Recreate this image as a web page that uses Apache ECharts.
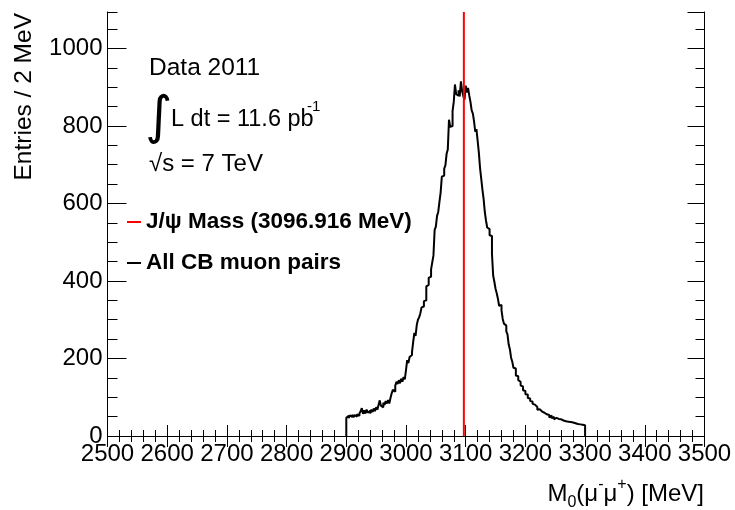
<!DOCTYPE html>
<html><head><meta charset="utf-8">
<script src="https://cdn.jsdelivr.net/npm/echarts@6/dist/echarts.min.js"></script>
<style>html,body{margin:0;padding:0;background:#fff}#c{width:735px;height:510px}</style>
</head><body><div id="c"></div>
<script>
// ---- data ----
const binLow = 2900;      // MeV, lower edge of first bin
const binWidth = 2;       // MeV per bin
const entries = [
  47,52,46,53,49,55,48,54,50,56,
  52,58,64,72,57,66,58,68,60,65,
  58,68,62,71,64,74,68,80,92,78,
  74,86,80,90,84,93,84,98,110,119,
  114,130,140,134,144,136,148,140,152,146,
  170,196,188,204,209,216,242,266,258,286,
  300,306,316,332,334,348,350,386,390,408,
  411,430,448,466,532,540,568,578,604,628,
  669,672,690,698,728,739,816,798,800,838,
  862,907,882,878,892,876,915,890,877,868,
  904,886,898,878,862,840,832,812,785,792,
  762,732,692,664,636,612,578,556,538,534,
  518,516,470,414,398,380,368,354,336,338,
  324,302,290,285,270,262,236,224,202,192,
  176,174,156,154,144,140,130,128,118,116,
  108,107,98,97,90,89,83,81,76,75,
  68,69,64,63,58,60,57,56,52,54,
  48,53,46,49,43,47,42,44,40,43,
  38,40,36,38,34,37,33,36,32,35,
  31,33,29,31,28,30,27,29,25,28
];
const jpsiMass = 3096.916;
const xRange = [2500, 3500];
const xTickStep = 100;
const yRange = [0, 1094];
const yTickStep = 200;
const yMinorStep = 50;
const seriesNames = ['J/\u03c8 Mass (3096.916 MeV)', 'All CB muon pairs'];

// ---- build histogram outline points from bins ----
const histPoints = [[binLow, 0]];
entries.forEach((v, i) => histPoints.push([binLow + i * binWidth, v]));
histPoints.push([binLow + entries.length * binWidth, 0]);

const FONT = 'Liberation Sans, Arial, Helvetica, sans-serif';
const chart = echarts.init(document.getElementById('c'));
const plain = v => String(v);

function xAx(pos, showLabel) {
  return {
    type: 'value', position: pos, min: xRange[0], max: xRange[1], interval: xTickStep,
    axisLine: { show: true, lineStyle: { color: '#000', width: 1 } },
    axisTick: { show: true, inside: true, length: 11, lineStyle: { color: '#000', width: 1 } },
    minorTick: { show: true, splitNumber: 5, length: 6, lineStyle: { color: '#000', width: 1 } },
    axisLabel: { show: showLabel, color: '#000', fontSize: 24, fontFamily: FONT, margin: 6, formatter: plain },
    splitLine: { show: false }
  };
}
function yAx(pos, step, tickLen, showLine, showLabel) {
  return {
    type: 'value', position: pos, min: yRange[0], max: yRange[1], interval: step,
    axisLine: { show: showLine, lineStyle: { color: '#000', width: 1 } },
    axisTick: { show: true, inside: true, length: tickLen, lineStyle: { color: '#000', width: 1 } },
    axisLabel: { show: showLabel, color: '#000', fontSize: 24, fontFamily: FONT, margin: 5, showMaxLabel: false, formatter: plain },
    splitLine: { show: false }
  };
}

chart.setOption({
  animation: false,
  backgroundColor: '#fff',
  grid: { left: 107.5, right: 30.5, top: 12, bottom: 74 },
  xAxis: [ xAx('bottom', true), xAx('top', false) ],
  yAxis: [
    yAx('left', yTickStep, 19, true, true),
    yAx('left', yMinorStep, 10, false, false),
    yAx('right', yTickStep, 17, true, false),
    yAx('right', yMinorStep, 9, false, false)
  ],
  legend: {
    data: seriesNames,
    orient: 'vertical', left: 127, top: 210, padding: 0,
    itemWidth: 14, itemHeight: 2, itemGap: 17, icon: 'rect',
    textStyle: { color: '#000', fontSize: 22.5, fontWeight: 'bold', fontFamily: FONT, lineHeight: 24 }
  },
  series: [
    {
      name: seriesNames[1], type: 'line', step: 'end', data: histPoints,
      showSymbol: false, symbol: 'none', color: '#000',
      lineStyle: { color: '#000', width: 2 }, z: 3
    },
    {
      name: seriesNames[0], type: 'line', data: [[jpsiMass, yRange[0]], [jpsiMass, yRange[1]]],
      showSymbol: false, symbol: 'none', color: '#ff0000',
      lineStyle: { color: '#ff0000', width: 2 }, z: 4
    }
  ],
  graphic: [
    { type: 'text', x: 24, y: 13, rotation: Math.PI / 2,
      style: { text: 'Entries / 2 MeV', fill: '#000', font: '24.5px ' + FONT, align: 'right', verticalAlign: 'middle' } },
    { type: 'text', x: 704, y: 494,
      style: {
        text: '{n|M}{sub|0}{n|(\u03bc}{sup|-}{n|\u03bc}{sup|+}{n|) [MeV]}',
        align: 'right', verticalAlign: 'middle', fill: '#000',
        rich: {
          n: { fontSize: 24, fontFamily: FONT, lineHeight: 34, fill: '#000' },
          sub: { fontSize: 16, fontFamily: FONT, lineHeight: 15, verticalAlign: 'bottom', fill: '#000' },
          sup: { fontSize: 16, fontFamily: FONT, lineHeight: 15, verticalAlign: 'top', fill: '#000' }
        }
      } },
    { type: 'text', x: 149, y: 68,
      style: { text: 'Data 2011', fill: '#000', font: '24.5px ' + FONT, align: 'left', verticalAlign: 'middle' } },
    { type: 'text', x: 145, y: 119,
      style: { text: '\u222b', fill: '#000', font: '52px DejaVu Sans', align: 'left', verticalAlign: 'middle' } },
    { type: 'text', x: 171, y: 120,
      style: { text: 'L dt = 11.6 pb', fill: '#000', font: '23.5px ' + FONT, align: 'left', verticalAlign: 'middle' } },
    { type: 'text', x: 307, y: 107,
      style: { text: '-1', fill: '#000', font: '15px ' + FONT, align: 'left', verticalAlign: 'middle' } },
    { type: 'text', x: 149, y: 164,
      style: { text: '\u221as = 7 TeV', fill: '#000', font: '24px ' + FONT, align: 'left', verticalAlign: 'middle' } }
  ]
});
</script></body></html>
